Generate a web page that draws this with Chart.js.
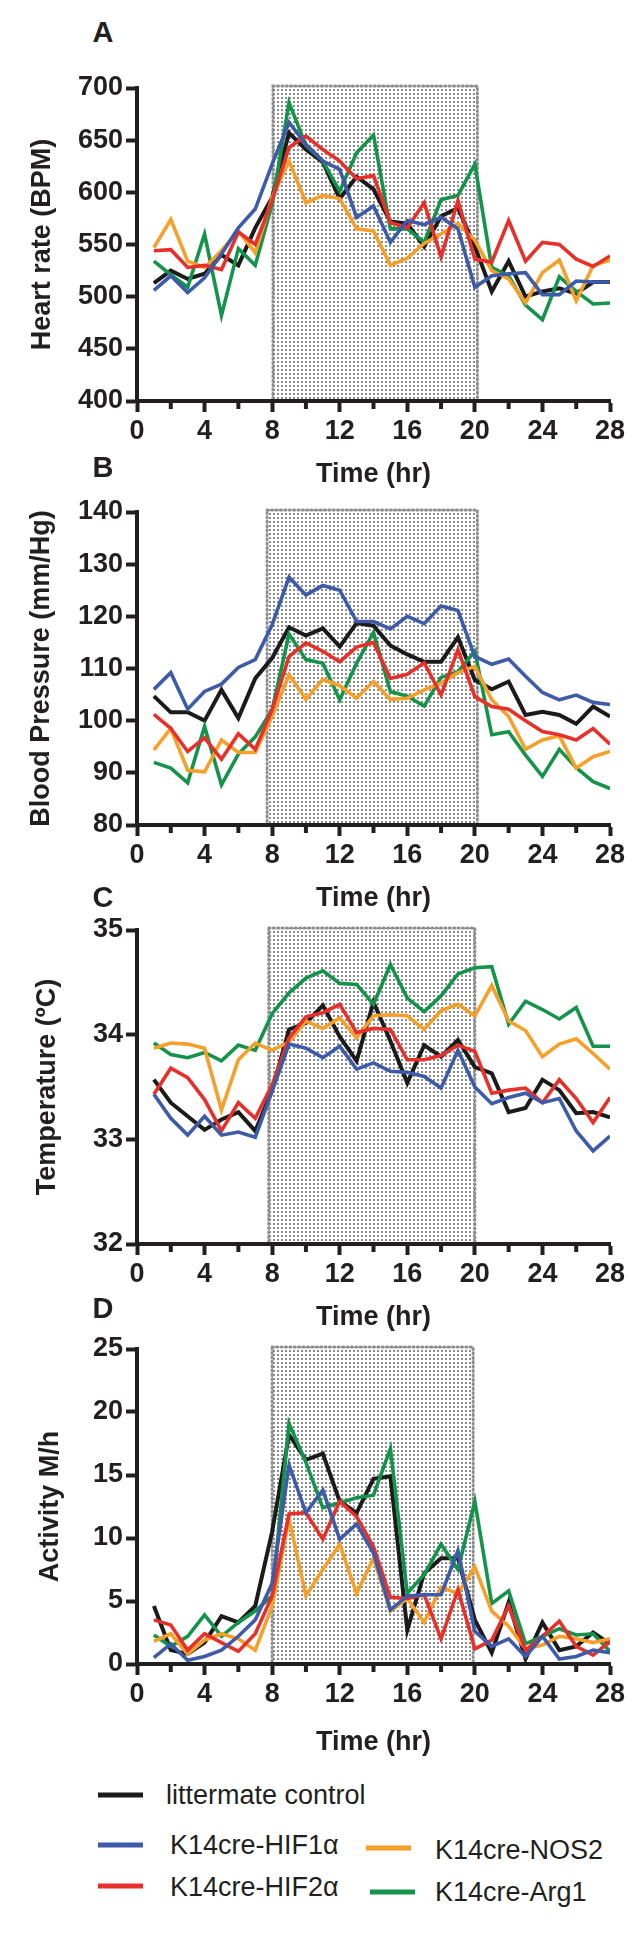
<!DOCTYPE html>
<html><head><meta charset="utf-8">
<script src="https://cdn.jsdelivr.net/npm/chart.js@4.4.1/dist/chart.umd.min.js"></script>
<style>
html,body{margin:0;padding:0;background:#fff;}
body{width:640px;height:1933px;position:relative;overflow:hidden;font-family:"Liberation Sans",Arial,sans-serif;}
canvas{position:absolute;left:0;}
.plabel{position:absolute;font-weight:bold;font-size:29px;color:#231f20;transform:translate(-50%,-50%);line-height:1;}
.lg{position:absolute;font-size:27px;color:#231f20;line-height:1;transform:translateY(-50%);white-space:nowrap;}
.sw{position:absolute;height:5px;width:45px;transform:translateY(-50%);}
</style></head><body>
<canvas id="cA" width="640" height="441" style="top:60px"></canvas>
<canvas id="cB" width="640" height="441" style="top:484px"></canvas>
<canvas id="cC" width="640" height="442" style="top:902px"></canvas>
<canvas id="cD" width="640" height="448" style="top:1321px"></canvas>
<div class="plabel" style="left:103px;top:32px">A</div>
<div class="plabel" style="left:103px;top:467px">B</div>
<div class="plabel" style="left:103px;top:897px">C</div>
<div class="plabel" style="left:103px;top:1308px">D</div>
<div id="legend"></div>
<script>
// ---------- data ----------
const hours = [1,2,3,4,5,6,7,8,9,10,11,12,13,14,15,16,17,18,19,20,21,22,23,24,25,26,27,28];
const seriesNames = ['littermate control','K14cre-HIF1\u03b1','K14cre-HIF2\u03b1','K14cre-NOS2','K14cre-Arg1'];

const heartControl = [513,525,517,522,540,530,566,595,657,641,629,594,615,603,572,570,548,577,585,548,505,534,500,505,508,503,514,514];
const heartHIF1a   = [506,520,504,518,541,566,584,627,667,646,630,622,576,587,552,573,569,576,565,509,520,522,523,502,502,515,514,514];
const heartHIF2a   = [544,545,528,530,526,562,550,592,643,654,641,630,613,616,571,566,590,538,592,536,533,573,534,552,550,536,529,539];
const heartNOS2    = [547,574,534,528,544,563,542,595,630,590,597,594,565,563,530,537,551,560,570,554,525,517,494,523,535,496,530,535];
const heartArg1    = [534,521,509,560,482,546,530,589,686,645,630,601,638,655,565,565,552,593,597,627,528,520,492,478,519,505,493,494];

const bpControl = [104.7,101.6,101.6,100.0,105.9,100.5,108.1,112.0,117.9,116.3,117.7,114.2,118.7,118.2,114.4,112.7,111.3,111.3,116.0,107.8,106.0,107.5,101.1,101.7,101.1,99.4,102.7,100.8];
const bpHIF1a   = [106.0,109.2,102.2,105.6,107.0,110.2,111.7,118.4,127.5,124.1,125.9,125.0,119.0,119.0,117.6,120.0,118.6,122.0,121.1,112.3,110.8,111.8,108.5,105.4,104.0,104.9,103.5,103.1];
const bpHIF2a   = [101.2,98.5,94.1,96.7,92.6,97.5,94.5,102.1,112.3,114.9,113.3,111.3,114.1,115.0,108.1,108.9,111.1,104.9,113.6,104.6,102.7,102.2,100.0,97.9,97.3,96.3,98.5,95.5];
const bpNOS2    = [94.4,98.5,90.5,90.2,96.3,93.9,93.9,100.8,108.8,104.1,107.9,106.7,104.3,107.5,104.1,104.3,105.9,107.2,109.2,110.4,104.0,100.8,94.5,96.3,97.1,90.9,93.1,94.1];
const bpArg1    = [92.0,90.9,88.1,98.9,87.7,93.6,96.9,102.1,116.6,111.7,111.0,104.0,111.0,116.9,105.6,104.7,102.8,108.3,109.4,113.3,97.3,97.9,93.4,89.3,94.5,91.0,88.3,87.0];

const tempControl = [33.57,33.35,33.22,33.09,33.19,33.26,33.08,33.47,34.05,34.11,34.28,33.98,33.75,34.31,33.94,33.54,33.90,33.79,33.95,33.69,33.63,33.26,33.30,33.57,33.47,33.25,33.26,33.21];
const tempHIF1a   = [33.43,33.20,33.04,33.22,33.04,33.07,33.02,33.46,33.91,33.87,33.78,33.89,33.67,33.73,33.65,33.64,33.60,33.49,33.85,33.50,33.34,33.40,33.44,33.35,33.39,33.08,32.89,33.03];
const tempHIF2a   = [33.43,33.68,33.59,33.38,33.08,33.35,33.20,33.52,33.97,34.17,34.21,34.29,34.02,34.06,34.05,33.76,33.76,33.80,33.90,33.84,33.44,33.47,33.49,33.35,33.57,33.39,33.16,33.40];
const tempNOS2    = [33.87,33.92,33.91,33.87,33.28,33.76,33.92,33.85,33.93,34.13,34.06,34.16,33.97,34.18,34.19,34.18,34.05,34.23,34.29,34.18,34.47,34.13,34.04,33.79,33.91,33.96,33.82,33.67];
const tempArg1    = [33.92,33.81,33.78,33.83,33.75,33.90,33.85,34.20,34.40,34.54,34.61,34.49,34.48,34.29,34.67,34.35,34.22,34.37,34.58,34.64,34.65,34.10,34.32,34.24,34.15,34.26,33.89,33.89];

const actControl = [4.6,1.1,0.8,1.7,3.8,3.3,4.6,10.5,18.2,16.2,16.7,12.9,12.0,14.7,14.9,2.7,7.2,8.4,8.4,3.5,0.9,4.9,0.4,3.3,1.1,1.4,2.5,1.6];
const actHIF1a   = [0.5,1.6,0.3,0.6,1.1,2.2,3.5,6.4,15.8,12.0,13.8,9.9,11.1,8.8,4.3,5.4,5.5,5.5,9.0,2.6,1.4,2.0,0.6,2.2,0.4,0.6,1.1,0.9];
const actHIF2a   = [3.5,3.1,1.1,2.4,1.7,1.0,2.4,5.4,11.9,12.0,9.9,12.9,11.7,9.3,5.3,5.2,5.5,2.0,5.9,1.2,1.9,4.6,1.1,2.2,3.4,1.4,0.7,1.8];
const actNOS2    = [1.8,2.4,0.8,1.9,2.4,2.0,1.1,4.6,11.5,5.4,7.5,9.5,5.6,8.4,4.2,5.2,3.3,6.1,5.6,7.7,4.2,3.0,1.2,1.5,2.2,2.0,1.7,2.0];
const actArg1    = [2.3,1.4,2.2,3.9,2.2,3.3,4.2,5.4,19.1,16.0,12.4,12.8,13.2,13.4,17.1,5.6,7.1,9.5,7.5,12.9,4.8,5.8,1.6,2.2,2.8,2.3,2.4,1.0];

// dark-phase shading (hours), per panel A-D
const nightStart = [8.05, 7.7, 7.8, 8.0];
const nightEnd   = [20.15, 20.15, 20.0, 19.9];

const yTitles = ['Heart rate (BPM)', 'Blood Pressure (mm/Hg)', 'Temperature (\u00baC)', 'Activity M/h'];
const yMins = [400, 80, 32, 0];
const yMaxs = [700, 140, 35, 25];
const ySteps = [50, 10, 1, 5];
const xTitle = 'Time (hr)';

// ---------- styling ----------
const ink = '#231f20';
const colors = ['#1b1b1b', '#3d5ba8', '#e8302a', '#f6a02a', '#14944a'];
const FONT = '"Liberation Sans", Arial, sans-serif';

const panels = [
  {id:'cA', series:[heartControl, heartHIF1a, heartHIF2a, heartNOS2, heartArg1], xh:100, ytp:26},
  {id:'cB', series:[bpControl, bpHIF1a, bpHIF2a, bpNOS2, bpArg1], xh:100, ytp:25},
  {id:'cC', series:[tempControl, tempHIF1a, tempHIF2a, tempNOS2, tempArg1], xh:100, ytp:31},
  {id:'cD', series:[actControl, actHIF1a, actHIF2a, actNOS2, actArg1], xh:105, ytp:34},
];

// dotted pattern
const pc = document.createElement('canvas'); pc.width = 4; pc.height = 4;
const pg = pc.getContext('2d');
pg.fillStyle = '#8c8c8c'; pg.fillRect(1, 1, 2, 2);

const nightShade = {
  id: 'nightShade',
  beforeDraw(chart, args, opts) {
    const {ctx, chartArea, scales: {x}} = chart;
    const x0 = x.getPixelForValue(opts.start), x1 = x.getPixelForValue(opts.end);
    const top = chartArea.top - 2, bottom = chartArea.bottom;
    ctx.save();
    ctx.fillStyle = ctx.createPattern(pc, 'repeat');
    ctx.fillRect(x0, top, x1 - x0, bottom - top);
    ctx.strokeStyle = '#8f8f8f'; ctx.lineWidth = 3; ctx.setLineDash([1.2, 3.2]); ctx.lineCap = 'round';
    ctx.strokeRect(x0, top, x1 - x0, bottom - top);
    ctx.restore();
  }
};
const minorTicks = {
  id: 'minorTicks',
  afterDraw(chart) {
    const {ctx, scales: {x}, chartArea} = chart;
    ctx.save(); ctx.strokeStyle = ink; ctx.lineWidth = 4;
    x.ticks.forEach(t => {
      if (t.value % 4 !== 0) {
        const px = x.getPixelForValue(t.value);
        ctx.beginPath(); ctx.moveTo(px, chartArea.bottom); ctx.lineTo(px, chartArea.bottom + 8); ctx.stroke();
      }
    });
    ctx.restore();
  }
};

const drawOrder = [1, 2, 3, 4, 0];
panels.forEach((p, pi) => {
  const datasets = drawOrder.map(si => ({
    label: seriesNames[si],
    data: hours.map((h, i) => ({x: h, y: p.series[si][i]})),
    borderColor: colors[si],
    borderWidth: si === 0 ? 4 : 3.6,
    pointRadius: 0,
    tension: 0,
    fill: false
  }));
  new Chart(document.getElementById(p.id), {
    type: 'line',
    data: {datasets},
    plugins: [nightShade, minorTicks],
    options: {
      responsive: false, animation: false, devicePixelRatio: 1,
      layout: {padding: {top: 28, left: 0, right: 30, bottom: 0}},
      plugins: {legend: {display: false}, tooltip: {enabled: false},
        nightShade: {start: nightStart[pi], end: nightEnd[pi]}},
      scales: {
        x: {
          type: 'linear', min: 0, max: 28,
          ticks: {stepSize: 2, autoSkip: false, maxRotation: 0, padding: 3, color: ink,
            font: {family: FONT, size: 27, weight: 'bold'},
            callback: v => (v % 4 === 0 ? String(v) : '')},
          grid: {drawOnChartArea: false, drawTicks: true, tickLength: 11, tickWidth: 4,
            tickColor: c => (c.tick && c.tick.value % 4 === 0 ? ink : 'rgba(0,0,0,0)')},
          border: {display: true, width: 4, color: ink},
          title: {display: true, text: xTitle, color: ink, font: {family: FONT, size: 27, weight: 'bold'},
            padding: {top: 0, bottom: 10}},
          afterFit: s => { s.height = p.xh; }
        },
        y: {
          min: yMins[pi], max: yMaxs[pi],
          ticks: {stepSize: ySteps[pi], padding: 3, color: ink, font: {family: FONT, size: 27, weight: 'bold'}},
          grid: {drawOnChartArea: false, drawTicks: true, tickLength: 11, tickWidth: 4, tickColor: ink},
          border: {display: true, width: 4, color: ink},
          title: {display: true, text: yTitles[pi], color: ink, font: {family: FONT, size: 27, weight: 'bold'},
            padding: {top: p.ytp, bottom: 0}},
          afterFit: s => { s.width = 137; }
        }
      }
    }
  });
});

// ---------- legend ----------
const legendPos = [
  {si: 0, sx: 98, sy: 1795, tx: 166, ty: 1795},
  {si: 1, sx: 98, sy: 1845, tx: 170, ty: 1845},
  {si: 2, sx: 98, sy: 1886, tx: 170, ty: 1887},
  {si: 3, sx: 366, sy: 1848, tx: 435, ty: 1850},
  {si: 4, sx: 370, sy: 1892, tx: 435, ty: 1892},
];
const lg = document.getElementById('legend');
legendPos.forEach(l => {
  const sw = document.createElement('div');
  sw.className = 'sw'; sw.style.left = l.sx + 'px'; sw.style.top = l.sy + 'px'; sw.style.background = colors[l.si];
  lg.appendChild(sw);
  const t = document.createElement('div');
  t.className = 'lg'; t.style.left = l.tx + 'px'; t.style.top = l.ty + 'px'; t.textContent = seriesNames[l.si];
  lg.appendChild(t);
});
</script>
</body></html>
